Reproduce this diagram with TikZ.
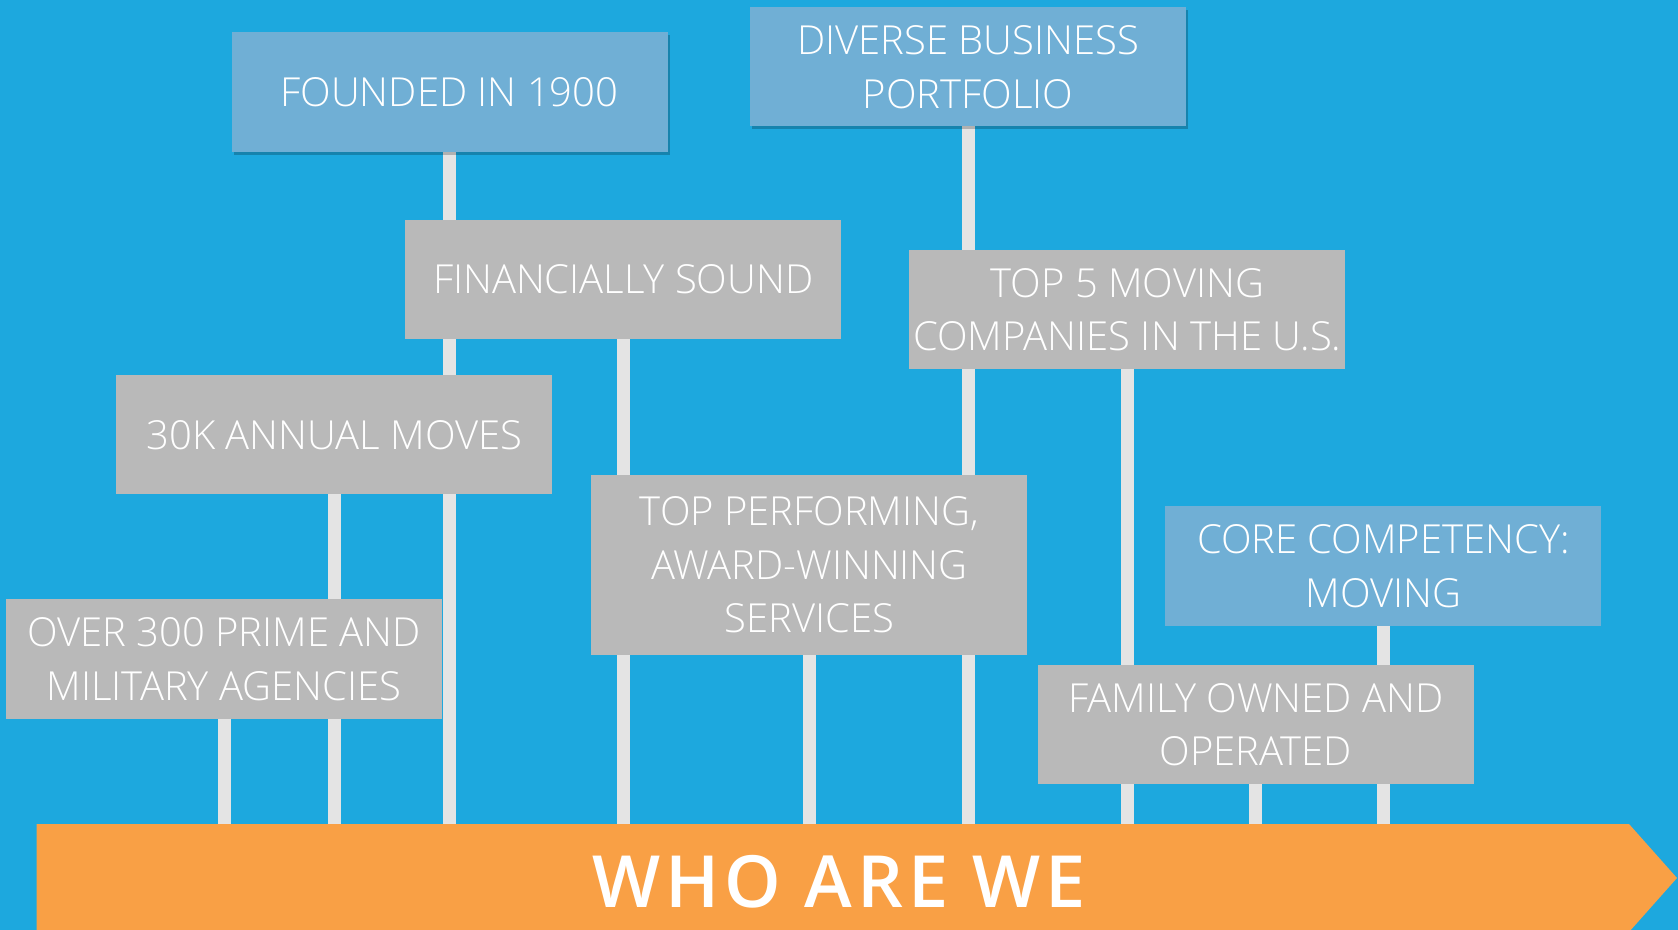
\documentclass[tikz,border=0pt]{standalone}
\usepackage{fontspec}
\setmainfont{Open Sans Light}
\newfontfamily\bannerfont[LetterSpace=7]{Open Sans Semibold}
\usetikzlibrary{shadows}
\definecolor{bgblue}{RGB}{29,168,222}
\definecolor{lblue}{RGB}{112,175,213}
\definecolor{boxgray}{RGB}{185,185,185}
\definecolor{stemgray}{RGB}{228,228,228}
\definecolor{banner}{RGB}{249,160,69}
\tikzset{
  fact/.style={rectangle, inner sep=0pt, minimum width=218pt, minimum height=59.5pt,
    align=center, text=white, font=\fontsize{20}{26.8}\selectfont},
  grayfact/.style={fact, fill=boxgray},
  bluefact/.style={fact, fill=lblue},
  shadowed/.style={drop shadow={shadow xshift=1pt, shadow yshift=-1.5pt, opacity=0.22, fill=black}},
  stemline/.style={draw=stemgray, line width=6.5pt},
}
\begin{document}
\begin{tikzpicture}[x=0.5pt,y=-0.5pt]
\useasboundingbox (0,0) rectangle (1678,930);
\clip (0,0) rectangle (1678,930);
\fill[bgblue] (0,0) rectangle (1678,930);
\coordinate (atop) at (0,824);
\path
  (449.5,92)   coordinate (pfound)
  (968,67)     coordinate (pdiv)
  (623.3,279.5) coordinate (pfin)
  (1127.3,309.5) coordinate (ptop)
  (334.4,435)  coordinate (pk)
  (809.4,565)  coordinate (pperf)
  (1383.4,566) coordinate (pcore)
  (224,659)    coordinate (pover)
  (1255.8,724.5) coordinate (pfam);
% stems
\foreach \p/\h in {pfound/120, pdiv/119, pfin/119, ptop/119, pk/119, pperf/180, pcore/120, pover/120, pfam/119}{
  \draw[stemline] ([yshift=-0.25*\h pt]\p) -- (\p |- atop);
}
% banner
\fill[banner] (36.7,824) -- (1629,824) -- (1677,878) -- (1629,932) -- (36.7,932) -- cycle;
\node[text=white, font=\bannerfont\fontsize{36}{40}\selectfont] (who) at (839,882) {WHO ARE WE};
% boxes
\node[bluefact, shadowed, minimum height=60pt] (found) at (pfound) {FOUNDED IN 1900};
\node[bluefact, shadowed, minimum height=59.5pt] (div) at (pdiv) {DIVERSE BUSINESS\\PORTFOLIO};
\node[grayfact] (fin) at (pfin) {FINANCIALLY SOUND};
\node[grayfact] (top) at (ptop) {TOP 5 MOVING\\COMPANIES IN THE U.S.};
\node[grayfact] (k) at (pk) {30K ANNUAL MOVES};
\node[grayfact, minimum height=90pt] (perf) at (pperf) {TOP PERFORMING,\\AWARD-WINNING\\SERVICES};
\node[bluefact, minimum height=60pt] (core) at (pcore) {CORE COMPETENCY:\\MOVING};
\node[grayfact, minimum height=60pt] (over) at (pover) {OVER 300 PRIME AND\\MILITARY AGENCIES};
\node[grayfact] (fam) at (pfam) {FAMILY OWNED AND\\OPERATED};
\end{tikzpicture}
\end{document}
